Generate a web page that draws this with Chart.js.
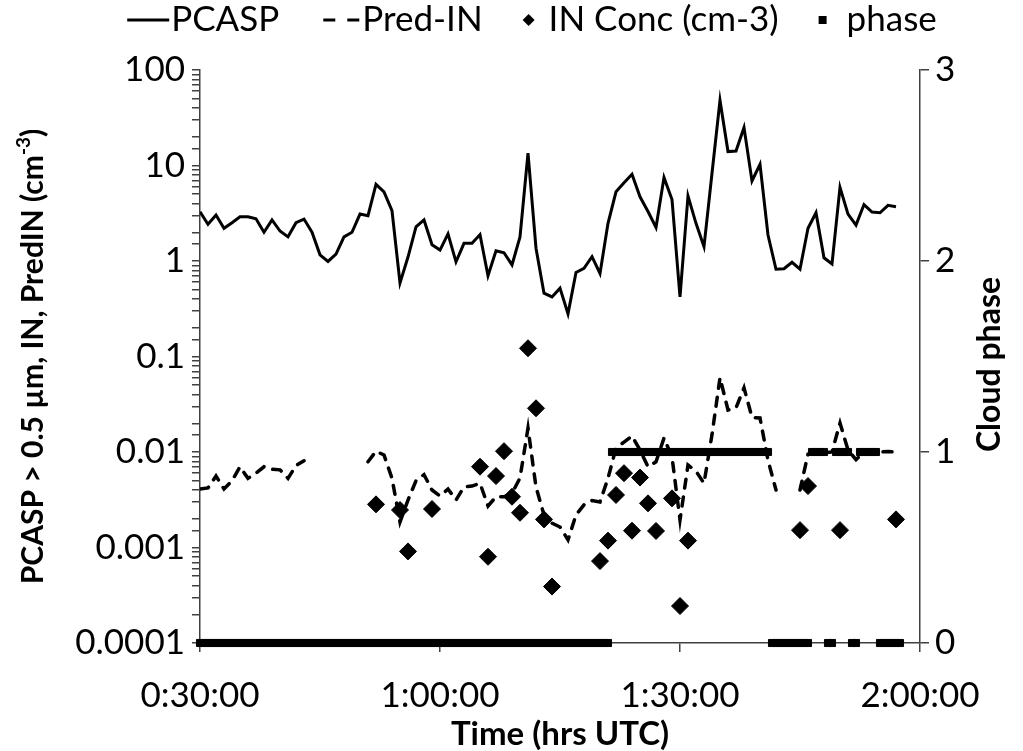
<!DOCTYPE html>
<html>
<head>
<meta charset="utf-8">
<script src="https://cdn.jsdelivr.net/npm/chart.js@4.4.1/dist/chart.umd.min.js"></script>
<style>
  html, body { margin: 0; padding: 0; background: #ffffff; }
  #wrap { width: 1023px; height: 751px; position: relative; }
</style>
</head>
<body>
<div id="wrap"><canvas id="c" width="1023" height="751"></canvas></div>
<script>
// ---------------- DATA ----------------
// PCASP & Pred-IN: one value per minute, starting at 0:30:00
const seriesStartMinute = 30;
const pcasp = [3.28, 2.42, 3.03, 2.2, 2.52, 2.91, 2.9, 2.77, 2.0, 2.69,
  2.06, 1.79, 2.52, 2.75, 2.0, 1.16, 0.99, 1.18, 1.79, 2.0,
  3.1, 2.98, 6.35, 5.3, 3.36, 0.59, 1.1, 2.28, 2.69, 1.48,
  1.3, 1.92, 0.98, 1.53, 1.53, 1.89, 0.70, 1.28, 1.22, 0.91,
  1.79, 13.5, 1.36, 0.46, 0.42, 0.52, 0.28, 0.76, 0.84, 1.11,
  0.74, 2.48, 5.3, 6.6, 8.1, 4.7, 3.3, 2.25, 7.5, 4.4,
  0.42, 4.8, 2.48, 1.41, 8.3, 48, 14, 14.2, 25, 6.9,
  10.3, 1.87, 0.82, 0.83, 0.97, 0.82, 2.2, 3.2, 1.08, 0.93,
  5.9, 3.1, 2.38, 3.9, 3.26, 3.2, 3.83, 3.7];
const predIN = [0.0041, 0.0042, 0.0056, 0.0041, 0.0050, 0.0070, 0.0053, 0.0060, 0.0070, 0.0066,
  0.0065, 0.0053, 0.0072, 0.0081, null, null, null, null, null, null,
  null, 0.0079, 0.0102, 0.0093, 0.0053, 0.00185, 0.00314, 0.0050, 0.0058, 0.0040,
  0.00346, 0.0041, 0.00314, 0.0043, 0.0044, 0.0047, 0.00272, 0.0034, 0.0034, 0.0037,
  0.00535, 0.0178, 0.0043, 0.00219, 0.0018, 0.00164, 0.0012, 0.00219, 0.0028, 0.0031,
  0.0030, 0.0053, 0.011, 0.0127, 0.0147, 0.0105, 0.0070, 0.0079, 0.014, 0.0089,
  0.00194, 0.0073, 0.0063, 0.0047, 0.0152, 0.060, 0.0275, 0.029, 0.047, 0.023,
  0.0227, 0.0082, 0.0040, null, null, 0.0040, 0.0095, 0.010, 0.0098, 0.010,
  0.0201, 0.0105, 0.0083, 0.010, 0.010, 0.010, 0.0101, 0.010];

// IN concentration (cm-3): minutes after 0:00 and value
const inMinutes = [52, 55, 56, 59, 65, 66, 67, 68, 69, 70, 71, 72, 73, 74,
  80, 81, 82, 83, 84, 85, 86, 87, 89, 90, 91, 105, 106, 110, 117];
const inConc = [0.00283, 0.00247, 0.00091, 0.00253, 0.00702, 0.0008, 0.0056, 0.0102, 0.0034, 0.00231,
  0.122, 0.0287, 0.00197, 0.00039, 0.00072, 0.00118, 0.00355, 0.006, 0.0015, 0.0054,
  0.0029, 0.00149, 0.00327, 0.000244, 0.00118, 0.00152, 0.0044, 0.00152, 0.00197];

// Cloud phase: one value every 30 s, starting at 0:30:00
const phaseStartMinute = 30;
const phaseStepMinutes = 0.5;
const phase = [
  0,0,0,0,0,0,0,0,0,0, 0,0,0,0,0,0,0,0,0,0, 0,0,0,0,0,0,0,0,0,0,
  0,0,0,0,0,0,0,0,0,0, 0,0,0,0,0,0,0,0,0,0, 0,0,0,0,0,0,0,0,0,0,
  0,0,0,0,0,0,0,0,0,0, 0,0,0,0,0,0,0,0,0,0, 0,0,0,0,0,0,0,0,0,0,
  0,0,0,0,0,0,0,0,0,0, 0,0,0,
  1,1,1,1,1,1,1,1,1,1, 1,1,1,1,1,1,1,1,1,1, 1,1,1,1,1,1,1,1,1,1, 1,1,1,1,1,1,1,1,1,1,
  0,0,0,0,0,0,0,0,0,0,
  1,1,1,1,
  0,0,
  1,1,1,1,
  0,0,
  1,1,1,1,1,
  0,0,0,0,0,0];

// Axis ticks and labels
const xTickMinutes = [30, 60, 90, 120];
const xTickLabels = ['0:30:00', '1:00:00', '1:30:00', '2:00:00'];
const yTickValues = [0.0001, 0.001, 0.01, 0.1, 1, 10, 100];
const yTickLabels = ['0.0001', '0.001', '0.01', '0.1', '1', '10', '100'];
const y1TickValues = [0, 1, 2, 3];
const y1TickLabels = ['0', '1', '2', '3'];

const legendNames = ['PCASP', 'Pred-IN', 'IN Conc (cm-3)', 'phase'];
const xTitle = 'Time (hrs UTC)';
const yTitleMain = 'PCASP > 0.5 \u00b5m, IN, PredIN (cm';
const yTitleSup = '-3';
const yTitleEnd = ')';
const y1Title = 'Cloud phase';

// ---------------- BUILD ----------------
const pcaspPts = pcasp.map((v, i) => ({ x: seriesStartMinute + i, y: v }));
const predPts = predIN.map((v, i) => ({ x: seriesStartMinute + i, y: v }));
const inPts = inConc.map((v, i) => ({ x: inMinutes[i], y: v }));
const phasePts = phase.map((v, i) => ({ x: phaseStartMinute + i * phaseStepMinutes, y: v }));

const FONT = 'Lato';
const AXIS_COLOR = '#404040';

function fixWidth(w) { return function (scale) { scale.width = w; }; }
function fixHeight(h) { return function (scale) { scale.height = h; }; }

const titlesAndLegend = {
  id: 'titlesAndLegend',
  afterDraw(chart) {
    const { ctx, chartArea } = chart;
    const cy = (chartArea.top + chartArea.bottom) / 2;
    ctx.save();
    ctx.fillStyle = '#000';
    ctx.textBaseline = 'middle';
    ctx.textAlign = 'left';

    // Left title (rotated, with superscript)
    const mainFont = 'bold 30px ' + FONT;
    const supFont = 'bold 19px ' + FONT;
    ctx.font = mainFont; const w1 = ctx.measureText(yTitleMain).width;
    ctx.font = supFont; const w2 = ctx.measureText(yTitleSup).width;
    ctx.font = mainFont; const w3 = ctx.measureText(yTitleEnd).width;
    ctx.save();
    ctx.translate(33, cy);
    ctx.rotate(-Math.PI / 2);
    let x = -(w1 + w2 + w3) / 2;
    ctx.font = mainFont; ctx.fillText(yTitleMain, x, 0); x += w1;
    ctx.font = supFont; ctx.fillText(yTitleSup, x, -9); x += w2;
    ctx.font = mainFont; ctx.fillText(yTitleEnd, x, 0);
    ctx.restore();

    // Right title (rotated, reading upward)
    ctx.save();
    ctx.font = 'bold 32px ' + FONT;
    ctx.translate(990, cy + 8);
    ctx.rotate(-Math.PI / 2);
    ctx.textAlign = 'center';
    ctx.fillText(y1Title, 0, 0);
    ctx.restore();

    // Legend
    const legendFont = '35px ' + FONT;
    ctx.font = legendFont;
    const symW = [42, 40, 12, 8];
    const symGap = [2, 3, 14, 20];
    const itemGap = 40;
    const widths = legendNames.map((n, i) => symW[i] + symGap[i] + ctx.measureText(n).width);
    const total = widths.reduce((a, b) => a + b, 0) + itemGap * (legendNames.length - 1);
    let lx = 532 - total / 2;
    const ly = 20;
    legendNames.forEach((name, i) => {
      ctx.save();
      ctx.strokeStyle = '#000';
      ctx.fillStyle = '#000';
      if (i === 0) {
        ctx.lineWidth = 3;
        ctx.beginPath(); ctx.moveTo(lx, ly); ctx.lineTo(lx + symW[i], ly); ctx.stroke();
      } else if (i === 1) {
        ctx.lineWidth = 3;
        ctx.setLineDash([12, 12]);
        ctx.beginPath(); ctx.moveTo(lx + 4, ly); ctx.lineTo(lx + symW[i], ly); ctx.stroke();
      } else if (i === 2) {
        const cx = lx + symW[i] / 2, r = 6;
        ctx.beginPath(); ctx.moveTo(cx, ly - r); ctx.lineTo(cx + r, ly); ctx.lineTo(cx, ly + r); ctx.lineTo(cx - r, ly); ctx.closePath(); ctx.fill();
      } else {
        const cx = lx + symW[i] / 2;
        ctx.fillRect(cx - 4, ly - 4, 8, 8);
      }
      ctx.restore();
      ctx.font = legendFont;
      ctx.fillStyle = '#000';
      ctx.textAlign = 'left';
      ctx.textBaseline = 'middle';
      ctx.fillText(name, lx + symW[i] + symGap[i], ly);
      lx += widths[i] + itemGap;
    });
    ctx.restore();
  }
};

new Chart(document.getElementById('c'), {
  type: 'line',
  data: {
    datasets: [
      {
        label: legendNames[3], data: phasePts, yAxisID: 'y1', showLine: false,
        pointStyle: 'rect', pointRadius: 5, pointHoverRadius: 5, borderWidth: 1,
        backgroundColor: '#000', borderColor: '#000', clip: false, order: 0
      },
      {
        label: legendNames[2], data: inPts, yAxisID: 'y', showLine: false,
        pointStyle: 'rectRot', pointRadius: 8.5, pointHoverRadius: 8.5, borderWidth: 1,
        backgroundColor: '#000', borderColor: '#000', clip: false, order: 1
      },
      {
        label: legendNames[1], data: predPts, yAxisID: 'y', borderColor: '#000',
        borderWidth: 3.5, borderDash: [9, 9], borderCapStyle: 'round', pointRadius: 0,
        spanGaps: false, tension: 0, fill: false, order: 2
      },
      {
        label: legendNames[0], data: pcaspPts, yAxisID: 'y', borderColor: '#000',
        borderWidth: 3, pointRadius: 0, tension: 0, fill: false, order: 3
      }
    ]
  },
  options: {
    responsive: false,
    animation: false,
    devicePixelRatio: 1,
    layout: { padding: { top: 70, left: 0, right: 0, bottom: 0 } },
    plugins: { legend: { display: false }, tooltip: { enabled: false } },
    scales: {
      x: {
        type: 'linear', position: 'bottom', min: 30, max: 120,
        afterFit: fixHeight(108),
        afterBuildTicks: (scale) => { scale.ticks = xTickMinutes.map(v => ({ value: v })); },
        ticks: {
          autoSkip: false, maxRotation: 0, color: '#000', padding: 23,
          font: { family: FONT, size: 35 },
          callback: (v) => { const k = xTickMinutes.indexOf(v); return k >= 0 ? xTickLabels[k] : ''; }
        },
        grid: { drawOnChartArea: false, drawTicks: true, tickLength: 9, color: AXIS_COLOR, lineWidth: 1.5 },
        border: { display: true, color: AXIS_COLOR, width: 1.5 },
        title: { display: true, text: xTitle, color: '#000', font: { family: FONT, size: 33, weight: 'bold', lineHeight: 1 }, padding: { top: 0, bottom: 0 } }
      },
      y: {
        type: 'logarithmic', position: 'left', min: 0.0001, max: 100,
        afterFit: fixWidth(200),
        ticks: {
          autoSkip: false, color: '#000', padding: 7,
          font: { family: FONT, size: 35 },
          callback: (v) => {
            const k = yTickValues.findIndex(t => Math.abs(Math.log10(t) - Math.log10(v)) < 1e-6);
            return k >= 0 ? yTickLabels[k] : '';
          }
        },
        grid: { drawOnChartArea: false, drawTicks: true, tickLength: 8, color: AXIS_COLOR, lineWidth: 1.5 },
        border: { display: true, color: AXIS_COLOR, width: 1.5 }
      },
      y1: {
        type: 'linear', position: 'right', min: 0, max: 3,
        afterFit: fixWidth(103),
        afterBuildTicks: (scale) => { scale.ticks = y1TickValues.map(v => ({ value: v })); },
        ticks: {
          autoSkip: false, color: '#000', padding: 6,
          font: { family: FONT, size: 35 },
          callback: (v) => { const k = y1TickValues.indexOf(v); return k >= 0 ? y1TickLabels[k] : ''; }
        },
        grid: { drawOnChartArea: false, drawTicks: true, tickLength: 9, color: AXIS_COLOR, lineWidth: 1.5 },
        border: { display: true, color: AXIS_COLOR, width: 1.5 }
      }
    }
  },
  plugins: [titlesAndLegend]
});
</script>
</body>
</html>
